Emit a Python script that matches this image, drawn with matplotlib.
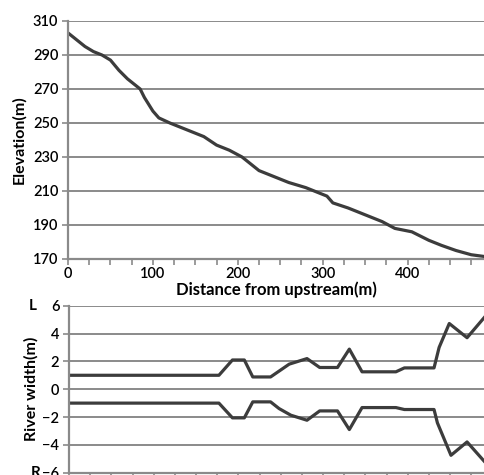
import numpy as np
import matplotlib
matplotlib.use('Agg')
import matplotlib.pyplot as plt

plt.rcParams['font.family'] = ['Lato', 'DejaVu Sans']

# longitudinal profile
dist = [0, 10, 20, 30, 40, 50, 60, 70, 80, 85, 90, 100, 107, 120, 140, 160, 175,
        190, 205, 215, 225, 245, 260, 280, 295, 305, 312, 330, 350, 370, 385,
        405, 425, 440, 457, 475, 490]
elev = [303, 299, 295, 292, 290, 287, 281, 276, 272, 270, 265, 257, 253, 250,
        246, 242, 237, 234, 230, 226, 222, 218, 215, 212, 209, 207, 203, 200,
        196, 192, 188, 186, 181, 178, 175, 172.5, 171.5]

# river banks (left positive, right negative)
left_x = [0, 177, 193, 207, 217, 238, 260, 281, 296, 317, 331, 346, 386, 396,
          431, 437, 449, 470, 491]
left_w = [1, 1, 2.1, 2.1, 0.88, 0.88, 1.8, 2.2, 1.56, 1.56, 2.88, 1.25, 1.25,
          1.53, 1.53, 3.0, 4.72, 3.7, 5.2]
right_x = [0, 177, 193, 207, 217, 238, 248, 262, 281, 296, 317, 331, 346, 386,
           396, 431, 435, 451, 470, 491]
right_w = [-1, -1, -2.06, -2.06, -0.91, -0.91, -1.39, -1.87, -2.23, -1.56, -1.56,
           -2.9, -1.32, -1.32, -1.46, -1.46, -2.42, -4.75, -3.79, -5.23]

W, H = 484, 475
fig = plt.figure(figsize=(W / 100, H / 100), dpi=100)

line_c = '#3c3c3c'
grid_c = '#8a8a8a'
xmax = 490


def style(ax):
    ax.set_xlim(0, xmax)
    ax.grid(axis='y', color=grid_c, lw=1.4)
    ax.set_axisbelow(True)
    for s in ['top', 'right']:
        ax.spines[s].set_visible(False)
    for s in ['left', 'bottom']:
        ax.spines[s].set_color(grid_c)
        ax.spines[s].set_linewidth(1.6)
    ax.tick_params(axis='both', which='both', color=grid_c, width=1.2,
                   length=4, direction='out', labelsize=10.5, pad=3)
    ax.set_xticks(np.arange(0, xmax + 1, 25), minor=True)


# top panel
ax1 = fig.add_axes([68 / W, 1 - 259 / H, (W - 68) / W, 238 / H])
ax1.plot(dist, elev, color=line_c, lw=2.3)
style(ax1)
ax1.set_ylim(170, 310)
ax1.set_yticks(np.arange(170, 311, 20))
ax1.set_xticks([0, 100, 200, 300, 400])
ax1.tick_params(axis='x', pad=2)
for lab in ax1.get_xticklabels() + ax1.get_yticklabels():
    lab.set_fontweight('semibold')
ax1.set_xlabel('Distance from upstream(m)', fontsize=12, fontweight='bold',
               labelpad=0)
ax1.set_ylabel('Elevation(m)', fontsize=11.5, fontweight='bold', labelpad=5)

# bottom panel
ax2 = fig.add_axes([69 / W, 1 - 472.7 / H, (W - 69) / W, 167 / H])
ax2.plot(left_x, left_w, color=line_c, lw=2.3)
ax2.plot(right_x, right_w, color=line_c, lw=2.3)
style(ax2)
ax2.set_ylim(-6, 6)
ax2.set_yticks(np.arange(-6, 7, 2))
ax2.set_xticks([0, 100, 200, 300, 400])
ax2.set_xticklabels([])
for lab in ax2.get_yticklabels():
    lab.set_fontweight('semibold')
ax2.set_ylabel('River width(m)', fontsize=11.5, fontweight='bold', labelpad=3)
ax2.text(-0.087, 1.0, 'L', transform=ax2.transAxes, fontsize=11,
         fontweight='bold', ha='center', va='center')
ax2.text(-0.08, 0.0, 'R', transform=ax2.transAxes, fontsize=11,
         fontweight='bold', ha='center', va='center')

fig.savefig('out.png', dpi=100)
